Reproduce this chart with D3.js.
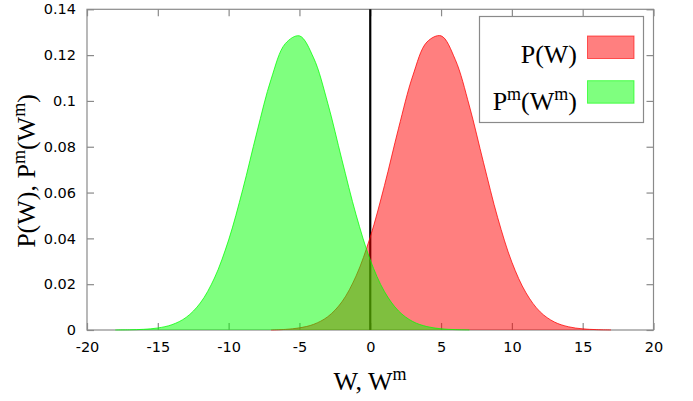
<!DOCTYPE html>
<html>
<head>
<meta charset="utf-8">
<script src="https://cdn.jsdelivr.net/npm/d3@7/dist/d3.min.js"></script>
<style>
  html, body { margin: 0; padding: 0; background: #fff; }
  svg { display: block; }
</style>
</head>
<body>
<svg id="chart" width="693" height="401"></svg>
<script>
// Work values sampled on a unit grid
const W = [-18,-17,-16,-15,-14,-13,-12,-11,-10,-9,-8,-7,-6,-5,-4,-3,-2,-1,0,1,2,3,4,5,6,7,8,9,10,11,12,13,14,15,16,17,18];

// Forward distribution P(W)
const pForward = [0,0,0,0,0,0,0,0,0,0,0,0.00002,0.00026,0.00093,0.00246,0.0058,0.0123,0.0236,0.0406,0.0630,0.0881,0.1109,0.1257,0.1284,0.1181,0.0978,0.0730,0.0490,0.0296,0.0162,0.0079,0.0035,0.0014,0.0005,0.00016,0.00005,0];

// Reverse distribution P^m(W^m)
const pReverse = [0.00003,0.00009,0.0003,0.00088,0.00232,0.0055,0.0118,0.0227,0.0393,0.0614,0.0864,0.1095,0.1250,0.1284,0.1188,0.0990,0.0743,0.0503,0.0306,0.0168,0.0083,0.0037,0.0015,0.00053,0.00017,0.00005,0,0,0,0,0,0,0,0,0,0,0];

const xTicks = [-20,-15,-10,-5,0,5,10,15,20];
const yTicks = [0,0.02,0.04,0.06,0.08,0.1,0.12,0.14];

const svg = d3.select("#chart");
const plotLeft = 87, plotRight = 653.5, plotTop = 9.3, plotBottom = 330;

const x = d3.scaleLinear().domain([-20, 20]).range([plotLeft, plotRight]);
const y = d3.scaleLinear().domain([0, 0.14]).range([plotBottom, plotTop]);

const frameColor = "#8a8a8a";
const tickFont = "'DejaVu Sans', sans-serif";
const serif = "'Liberation Serif', 'Times New Roman', serif";

// Axes with inward ticks on all four sides
function styleAxis(g) {
  g.selectAll(".domain").remove();
  g.selectAll(".tick line").attr("stroke", frameColor).attr("stroke-width", 1.2);
  g.selectAll(".tick text").attr("fill", "#000").style("font-family", tickFont).style("font-size", "14.5px");
}
const fmtX = v => String(v);
const fmtY = v => String(+v.toFixed(2));

svg.append("g").attr("transform", `translate(0,${plotBottom})`)
  .call(d3.axisBottom(x).tickValues(xTicks).tickSize(-7).tickPadding(12).tickFormat(fmtX))
  .call(styleAxis);
svg.append("g").attr("transform", `translate(0,${plotTop})`)
  .call(d3.axisTop(x).tickValues(xTicks).tickSize(-7).tickFormat(""))
  .call(styleAxis);
svg.append("g").attr("transform", `translate(${plotLeft},0)`)
  .call(d3.axisLeft(y).tickValues(yTicks).tickSize(-7).tickPadding(11).tickFormat(fmtY))
  .call(styleAxis);
svg.append("g").attr("transform", `translate(${plotRight},0)`)
  .call(d3.axisRight(y).tickValues(yTicks).tickSize(-7).tickFormat(""))
  .call(styleAxis);

svg.append("rect")
  .attr("x", plotLeft).attr("y", plotTop)
  .attr("width", plotRight - plotLeft).attr("height", plotBottom - plotTop)
  .attr("fill", "none").attr("stroke", frameColor).attr("stroke-width", 1.2);

// Zero line
svg.append("line")
  .attr("x1", x(0)).attr("x2", x(0))
  .attr("y1", y(0)).attr("y2", y(0.14))
  .attr("stroke", "#000").attr("stroke-width", 2.2);

// Filled distributions, semi-transparent
const area = d3.area().x(d => x(d[0])).y0(y(0)).y1(d => y(d[1])).curve(d3.curveCatmullRom.alpha(0.5));
const line = d3.line().defined(d => d[1] > 0).x(d => x(d[0])).y(d => y(d[1])).curve(d3.curveCatmullRom.alpha(0.5));

const series = [
  { values: pForward, color: "#ff0000" },
  { values: pReverse, color: "#00ff00" }
];
series.forEach(s => {
  const pts = W.map((w, i) => [w, s.values[i]]);
  svg.append("path").datum(pts).attr("d", area)
    .attr("fill", s.color).attr("fill-opacity", 0.5);
  svg.append("path").datum(pts).attr("d", line)
    .attr("fill", "none").attr("stroke", s.color).attr("stroke-opacity", 0.75).attr("stroke-width", 1);
});

// Axis titles
const xt = svg.append("text")
  .attr("x", 370).attr("y", 390)
  .attr("text-anchor", "middle")
  .style("font-family", serif).style("font-size", "26px");
xt.append("tspan").text("W, W");
xt.append("tspan").attr("dy", -10).style("font-size", "18px").text("m");

const yt = svg.append("text")
  .attr("transform", "translate(35,171) rotate(-90)")
  .attr("text-anchor", "middle")
  .style("font-family", serif).style("font-size", "26px");
yt.append("tspan").text("P(W), P");
yt.append("tspan").attr("dy", -10).style("font-size", "18px").text("m");
yt.append("tspan").attr("dy", 10).text("(W");
yt.append("tspan").attr("dy", -10).style("font-size", "18px").text("m");
yt.append("tspan").attr("dy", 10).text(")");

// Legend
const legend = svg.append("g");
legend.append("rect")
  .attr("x", 479.5).attr("y", 16.5).attr("width", 164).attr("height", 106)
  .attr("fill", "#fff").attr("stroke", frameColor).attr("stroke-width", 1.2);

const legendRows = [
  { parts: [["P(W)", 0]], color: "#ff0000", base: 62.5, sy: 36 },
  { parts: [["P", 0], ["m", -10], ["(W", 10], ["m", -10], [")", 10]], color: "#00ff00", base: 110, sy: 80.7 }
];
legendRows.forEach(r => {
  const t = legend.append("text")
    .attr("x", 577).attr("y", r.base).attr("text-anchor", "end")
    .style("font-family", serif).style("font-size", "26px");
  r.parts.forEach(([s, dy]) => {
    const sp = t.append("tspan").attr("dy", dy).text(s);
    if (dy < 0) sp.style("font-size", "18px");
  });
  legend.append("rect")
    .attr("x", 587.5).attr("y", r.sy).attr("width", 46.5).attr("height", 22.5)
    .attr("fill", r.color).attr("fill-opacity", 0.5)
    .attr("stroke", r.color).attr("stroke-opacity", 0.6).attr("stroke-width", 1);
});
</script>
</body>
</html>
